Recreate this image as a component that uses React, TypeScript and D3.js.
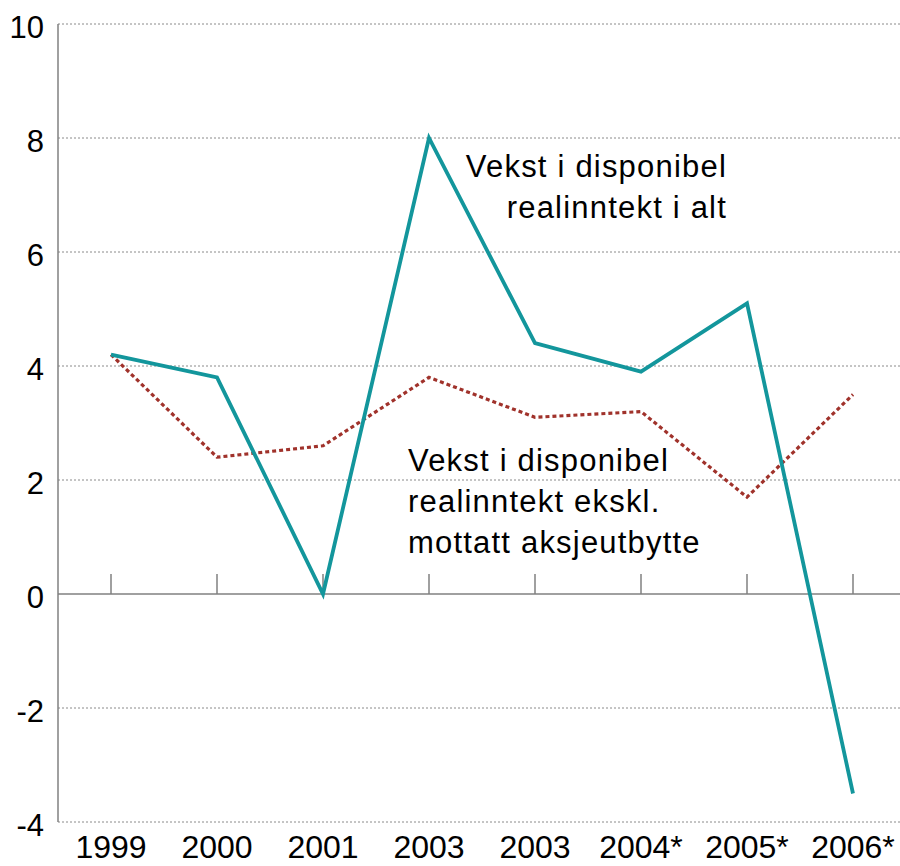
import React, { useEffect, useRef } from "react";
import * as d3 from "d3";

const years = ["1999", "2000", "2001", "2003", "2003", "2004*", "2005*", "2006*"];
const totalGrowth = [4.2, 3.8, 0, 8, 4.4, 3.9, 5.1, -3.5];
const exDividend = [4.2, 2.4, 2.6, 3.8, 3.1, 3.2, 1.7, 3.5];
const yTicks = [-4, -2, 0, 2, 4, 6, 8, 10];

const W = 900;
const H = 866;

export default function App() {
  const svgRef = useRef<SVGSVGElement | null>(null);

  useEffect(() => {
    if (!svgRef.current) return;
    const svg = d3.select(svgRef.current);
    svg.selectAll("*").remove();

    const left = 58;
    const right = 906;
    const top = 24;
    const bottom = 822;

    const x = d3
      .scaleBand<number>()
      .domain(d3.range(years.length))
      .range([left, right]);
    const cx = (i: number) => (x(i) as number) + x.bandwidth() / 2;

    const y = d3.scaleLinear().domain([-4, 10]).range([bottom, top]);

    const font = "'Liberation Sans', Arial, sans-serif";

    // dotted grid lines
    svg
      .selectAll(".grid")
      .data(yTicks.filter((t) => t !== 0))
      .enter()
      .append("line")
      .attr("x1", left)
      .attr("x2", W)
      .attr("y1", (d) => y(d))
      .attr("y2", (d) => y(d))
      .attr("stroke", "#8a8a8a")
      .attr("stroke-width", 1)
      .attr("stroke-dasharray", "2,2");

    // y axis line
    svg
      .append("line")
      .attr("x1", left)
      .attr("x2", left)
      .attr("y1", top)
      .attr("y2", bottom)
      .attr("stroke", "#808080")
      .attr("stroke-width", 1.5);

    // zero line
    svg
      .append("line")
      .attr("x1", left)
      .attr("x2", W)
      .attr("y1", y(0))
      .attr("y2", y(0))
      .attr("stroke", "#808080")
      .attr("stroke-width", 1.5);

    // category ticks above the zero line
    svg
      .selectAll(".xtick")
      .data(years)
      .enter()
      .append("line")
      .attr("x1", (_, i) => cx(i))
      .attr("x2", (_, i) => cx(i))
      .attr("y1", y(0) - 20)
      .attr("y2", y(0))
      .attr("stroke", "#808080")
      .attr("stroke-width", 1.5);

    // y labels
    svg
      .selectAll(".ylab")
      .data(yTicks)
      .enter()
      .append("text")
      .attr("x", 44)
      .attr("y", (d) => y(d) + 14)
      .attr("text-anchor", "end")
      .style("font-family", font)
      .style("font-size", "31px")
      .attr("fill", "#000")
      .text((d) => d);

    // x labels
    svg
      .selectAll(".xlab")
      .data(years)
      .enter()
      .append("text")
      .attr("x", (_, i) => cx(i))
      .attr("y", 858)
      .attr("text-anchor", "middle")
      .style("font-family", font)
      .style("font-size", "32px")
      .attr("fill", "#000")
      .text((d) => d);

    const line = d3
      .line<number>()
      .x((_, i) => cx(i))
      .y((d) => y(d));

    svg
      .append("path")
      .datum(exDividend)
      .attr("d", line)
      .attr("fill", "none")
      .attr("stroke", "#a0322b")
      .attr("stroke-width", 3.2)
      .attr("stroke-dasharray", "4,3");

    svg
      .append("path")
      .datum(totalGrowth)
      .attr("d", line)
      .attr("fill", "none")
      .attr("stroke", "#13969c")
      .attr("stroke-width", 3.8)
      .attr("stroke-linejoin", "miter");

    // annotations
    const ann1 = ["Vekst i disponibel", "realinntekt i alt"];
    svg
      .selectAll(".ann1")
      .data(ann1)
      .enter()
      .append("text")
      .attr("x", 727)
      .attr("y", (_, i) => 177 + i * 41)
      .attr("text-anchor", "end")
      .style("font-family", font)
      .style("font-size", "31px")
      .style("letter-spacing", "1.2px")
      .attr("fill", "#000")
      .text((d) => d);

    const ann2 = ["Vekst i disponibel", "realinntekt ekskl.", "mottatt aksjeutbytte"];
    svg
      .selectAll(".ann2")
      .data(ann2)
      .enter()
      .append("text")
      .attr("x", 408)
      .attr("y", (_, i) => 471 + i * 41)
      .attr("text-anchor", "start")
      .style("font-family", font)
      .style("font-size", "31px")
      .style("letter-spacing", "1.2px")
      .attr("fill", "#000")
      .text((d) => d);
  }, []);

  return (
    <svg
      ref={svgRef}
      width={W}
      height={H}
      style={{ position: "absolute", left: 0, top: 0, background: "#fff" }}
    />
  );
}
